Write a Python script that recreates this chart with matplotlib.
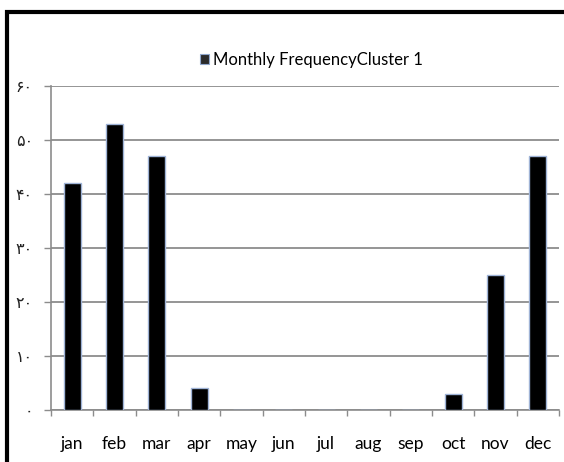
import matplotlib
matplotlib.use("Agg")
import matplotlib.pyplot as plt
from matplotlib.patches import Rectangle, Patch

months = ["jan", "feb", "mar", "apr", "may", "jun", "jul", "aug", "sep", "oct", "nov", "dec"]
frequency = [42, 53, 47, 4, 0, 0, 0, 0, 0, 3, 25, 47]
y_ticks = [0, 10, 20, 30, 40, 50, 60]
y_tick_labels = ["\u06f0", "\u06f1\u06f0", "\u06f2\u06f0", "\u06f3\u06f0", "\u06f4\u06f0", "\u06f5\u06f0", "\u06f6\u06f0"]
series_name = "Monthly FrequencyCluster 1"

plt.rcParams['font.family'] = ['Lato', 'DejaVu Sans']

fig = plt.figure(figsize=(5.64, 4.62), dpi=100)
ax = fig.add_axes([51/564, 52/462, 508/564, 324/462])

x = list(range(len(months)))
ax.bar(x, frequency, width=0.4, color="black", edgecolor="#9fb3d6", linewidth=1.0, zorder=3)

ax.set_xlim(-0.5, 11.5)
ax.set_ylim(0, 60)

ax.set_yticks(y_ticks)
ax.set_yticklabels(y_tick_labels, family=['DejaVu Sans'], fontsize=11.5, color="#222222")
ax.yaxis.grid(True, color="#8c8c8c", linewidth=1.3, zorder=0)
ax.tick_params(axis="y", length=5, width=1, color="#8c8c8c", pad=8)

ax.set_xticks([i - 0.5 for i in range(13)])
ax.set_xticklabels([])
ax.tick_params(axis="x", which="major", length=4.3, width=1, color="#8c8c8c", direction="out")
ax.set_xticks(x, minor=True)
ax.set_xticklabels(months, minor=True, fontsize=12.5)
ax.tick_params(axis="x", which="minor", length=0, pad=19)

for s in ["top", "right"]:
    ax.spines[s].set_visible(False)
for s in ["left", "bottom"]:
    ax.spines[s].set_color("#8c8c8c")
    ax.spines[s].set_linewidth(1.2)

handle = Patch(facecolor="#2b2b2b", edgecolor="#8fa6cc", linewidth=0.8)
fig.legend([handle], [series_name], loc="center", bbox_to_anchor=(0.552, 0.87),
           frameon=False, fontsize=12, handlelength=0.55, handleheight=0.55,
           handletextpad=0.2)

fig.patches.append(Rectangle((6.5/564, -0.1), 2.0, 0.1 + (462 - 11.5)/462, transform=fig.transFigure,
                             fill=False, edgecolor="black", linewidth=3, zorder=10))

fig.savefig("out.png", dpi=100)
